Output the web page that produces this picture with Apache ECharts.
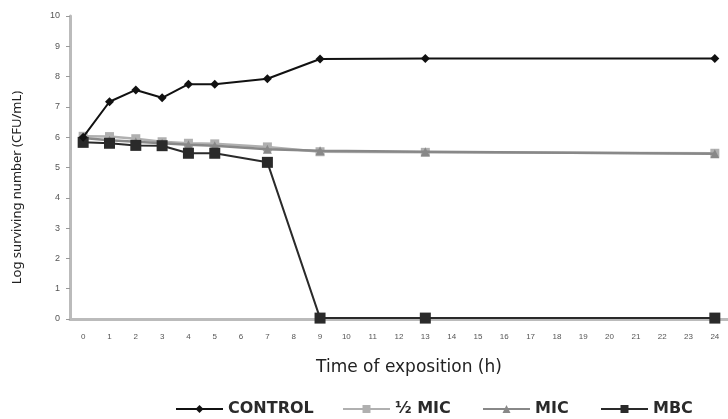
<!DOCTYPE html>
<html><head><meta charset="utf-8">
<script src="https://cdn.jsdelivr.net/npm/echarts@6/dist/echarts.min.js"></script>
<style>html,body{margin:0;padding:0;background:#fff}#c{width:728px;height:419px}</style>
</head><body><div id="c"></div>
<script>
const hours = ['0','1','2','3','4','5','6','7','8','9','10','11','12','13','14','15','16','17','18','19','20','21','22','23','24'];
const sampleHours = ['0','1','2','3','4','5','7','9','13','24'];
const control = [6.0, 7.17, 7.56, 7.3, 7.75, 7.75, 7.93, 8.58, 8.6, 8.6];
const halfMic = [6.03, 6.02, 5.95, 5.85, 5.8, 5.78, 5.68, 5.52, 5.5, 5.47];
const mic = [5.97, 5.9, 5.85, 5.8, 5.75, 5.72, 5.6, 5.55, 5.52, 5.45];
const mbc = [5.83, 5.8, 5.73, 5.72, 5.47, 5.47, 5.17, 0.03, 0.03, 0.03];
const seriesNames = ['CONTROL','½ MIC','MIC','MBC'];

function pairs(v){ return sampleHours.map((h,i)=>[h, v[i]]); }
const chart = echarts.init(document.getElementById('c'));
const font = 'DejaVu Sans';
const legendLefts = [170, 337, 477, 595];
chart.setOption({
  animation:false,
  grid:{left:70, top:16, width:662, height:303},
  xAxis:{type:'category', data:hours, boundaryGap:true,
    name:'Time of exposition (h)', nameLocation:'middle', nameGap:40,
    nameTextStyle:{fontFamily:font, fontSize:17, color:'#222', padding:[0,0,0,20]},
    axisLine:{lineStyle:{color:'#bbb', width:3}},
    axisTick:{show:false},
    axisLabel:{fontSize:8, color:'#555', margin:14, interval:0}},
  yAxis:{type:'value', min:0, max:10, interval:1,
    name:'Log surviving number (CFU/mL)', nameLocation:'middle', nameGap:46,
    nameTextStyle:{fontFamily:'Noto Sans', fontSize:13, color:'#222', padding:[0,40,0,0]},
    splitLine:{show:false},
    axisLine:{show:true, lineStyle:{color:'#bbb', width:3}},
    axisTick:{show:true, length:4, lineStyle:{color:'#999'}},
    axisLabel:{fontSize:9, color:'#555', margin:10}},
  legend: seriesNames.map((n,i)=>({top:396, left:legendLefts[i], itemWidth:47, itemHeight:10,
    textStyle:{fontFamily:font, fontSize:16, fontWeight:'bold', color:'#2a2a2a'},
    data:[n]})),
  series:[
    {name:'½ MIC', type:'line', data:pairs(halfMic), symbol:'rect', symbolSize:9,
     itemStyle:{color:'#b0b0b0'}, lineStyle:{color:'#b0b0b0', width:2.5}, z:2},
    {name:'MIC', type:'line', data:pairs(mic), symbol:'triangle', symbolSize:9,
     itemStyle:{color:'#888888'}, lineStyle:{color:'#888888', width:2.5}, z:3},
    {name:'MBC', type:'line', data:pairs(mbc), symbol:'rect', symbolSize:11,
     itemStyle:{color:'#2a2a2a'}, lineStyle:{color:'#2a2a2a', width:2}, z:4},
    {name:'CONTROL', type:'line', data:pairs(control), symbol:'diamond', symbolSize:9,
     itemStyle:{color:'#111'}, lineStyle:{color:'#111', width:2}, z:5}
  ]
});
</script></body></html>
